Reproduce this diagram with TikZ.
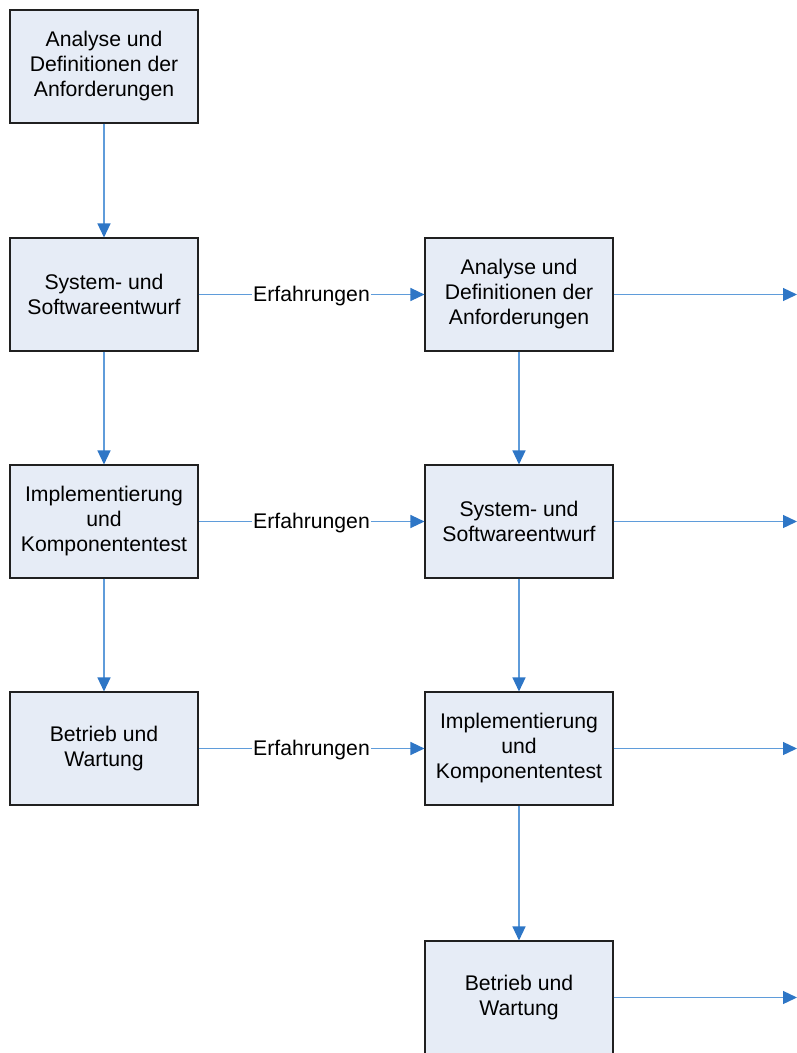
\documentclass[tikz,border=0pt]{standalone}
\usepackage{fontspec}
\setmainfont{Liberation Sans}
\usetikzlibrary{arrows.meta}
\definecolor{boxfill}{HTML}{E6ECF6}
\definecolor{boxline}{HTML}{202020}
\definecolor{linkline}{HTML}{5F9CDA}
\definecolor{tipblue}{HTML}{2E76C6}
\begin{document}
\begin{tikzpicture}[x=1pt,y=-1pt,
  phase/.style={draw=boxline, line width=1.1pt, fill=boxfill,
    minimum width=188pt, minimum height=113pt, inner sep=0pt,
    align=center, font=\fontsize{21.2}{25}\selectfont},
  flow/.style={draw=linkline, line width=1.3pt,
    -{Triangle[length=14pt,width=13pt,color=tipblue]}},
  lbl/.style={fill=white, inner sep=1pt, yshift=-2pt,
    font=\fontsize{21.2}{25}\selectfont}]
  \useasboundingbox (0,0) rectangle (797,1053);
  \begin{scope}
    \clip (0,0) rectangle (797,1053);
    % first cycle
    \node[phase] (a1) at (104,66.5) {Analyse und\\Definitionen der\\Anforderungen};
    \node[phase] (s1) at (104,294.5) {System- und\\Softwareentwurf};
    \node[phase] (i1) at (104,521.5) {Implementierung\\und\\Komponententest};
    \node[phase] (b1) at (104,748.5) {Betrieb und\\Wartung};
    % second cycle
    \node[phase] (a2) at (519,294.5) {Analyse und\\Definitionen der\\Anforderungen};
    \node[phase] (s2) at (519,521.5) {System- und\\Softwareentwurf};
    \node[phase] (i2) at (519,748.5) {Implementierung\\und\\Komponententest};
    \node[phase] (b2) at (519,997.5) {Betrieb und\\Wartung};
    % exits to the right edge
    \coordinate (ea) at (797,294.5);
    \coordinate (es) at (797,521.5);
    \coordinate (ei) at (797,748.5);
    \coordinate (eb) at (797,997.5);
    % downward flow
    \draw[flow] (a1) -- (s1);
    \draw[flow] (s1) -- (i1);
    \draw[flow] (i1) -- (b1);
    \draw[flow] (a2) -- (s2);
    \draw[flow] (s2) -- (i2);
    \draw[flow] (i2) -- (b2);
    % feedback of experience
    \draw[flow] (s1) -- node[lbl] {Erfahrungen} (a2);
    \draw[flow] (i1) -- node[lbl] {Erfahrungen} (s2);
    \draw[flow] (b1) -- node[lbl] {Erfahrungen} (i2);
    % continuing arrows
    \draw[flow] (a2) -- (ea);
    \draw[flow] (s2) -- (es);
    \draw[flow] (i2) -- (ei);
    \draw[flow] (b2) -- (eb);
  \end{scope}
\end{tikzpicture}
\end{document}
